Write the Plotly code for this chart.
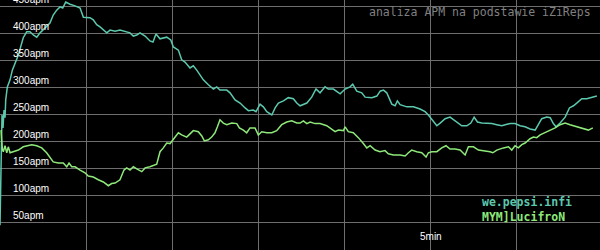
import plotly.graph_objects as go

# time in seconds, APM values
teal_name = "we.pepsi.infi"
teal_t = [0, 0.7, 1.4, 2.1, 2.8, 3.5, 4.0, 5.1, 7.0, 8.6, 10.5, 12.8, 14.4, 16.2, 18.6, 20.9, 23.2, 25.6,
          27.9, 31.4, 34.8, 37.1, 39.5, 41.8, 43.7, 45.8, 48.8, 52.3, 55.8, 58.1, 60.4, 62.7, 65.0, 67.4,
          69.7, 72.0, 74.4, 76.7, 80.2, 83.6, 87.1, 90.6, 92.9, 95.3, 97.6, 101.1, 104.5, 106.6, 108.7,
          111.5, 116.2, 119.0, 120.8, 124.3, 126.6, 128.9, 132.4, 134.7, 137.1, 139.4, 141.7, 145.2,
          148.7, 151.0, 153.3, 158.0, 160.3, 163.8, 167.3, 170.8, 173.1, 176.5, 178.4, 181.2, 183.5,
          185.9, 189.4, 191.7, 194.0, 197.5, 200.9, 204.4, 206.8, 209.1, 213.8, 217.2, 220.2, 223.0,
          226.5, 228.8, 232.3, 237.0, 240.5, 243.9, 245.8, 248.6, 252.1, 254.4, 259.1, 262.6, 264.9,
          267.2, 269.5, 273.0, 275.3, 276.9, 278.8, 283.5, 288.1, 292.7, 296.2, 298.5, 300.9, 304.4,
          306.7, 310.2, 313.6, 317.1, 321.8, 325.3, 328.1, 330.4, 332.7, 335.7, 339.2, 342.7, 346.2,
          349.7, 352.0, 355.5, 358.9, 362.4, 365.9, 369.4, 372.9, 375.2, 377.5, 381.0, 383.4, 385.6,
          387.5, 390.3, 393.8, 396.8, 399.6, 401.9, 405.4, 408.9, 412.4, 415.9]
teal_apm = [46, 204, 250, 226, 259, 245, 278, 302, 315, 333, 346, 361, 376, 393, 404, 404, 398, 394,
            402, 411, 420, 435, 444, 450, 448, 459, 455, 452, 448, 431, 431, 430, 426, 417,
            413, 407, 402, 407, 405, 407, 404, 402, 396, 398, 402, 396, 387, 385, 400,
            391, 394, 389, 376, 370, 352, 348, 337, 341, 333, 324, 315, 306,
            298, 302, 296, 296, 291, 278, 272, 263, 258, 259, 256, 270, 265,
            256, 250, 263, 272, 276, 282, 280, 272, 267, 272, 283, 298, 291,
            302, 298, 298, 289, 298, 302, 307, 294, 291, 283, 282, 285, 294,
            296, 291, 270, 267, 276, 269, 265, 265, 261, 256, 250, 241, 230,
            235, 243, 246, 239, 230, 230, 235, 246, 237, 235, 235, 234, 232,
            230, 232, 234, 234, 230, 228, 224, 222, 234, 243, 246, 245, 234,
            228, 235, 246, 263, 267, 272, 280, 280, 283, 285]

green_name = "MYM]LucifroN"
green_t = [0.7, 1.2, 1.7, 2.3, 3.5, 4.7, 5.8, 7.0, 9.3, 12.8, 16.2, 18.6, 22.1, 25.6, 29.1, 32.5, 34.8,
           37.1, 40.6, 44.1, 46.5, 48.1, 50.0, 52.3, 55.8, 59.2, 61.5, 65.0, 68.5, 72.0, 75.5, 77.8,
           80.2, 83.6, 86.4, 88.3, 90.6, 92.9, 95.3, 98.8, 101.1, 104.5, 109.2, 111.5, 113.8, 116.2,
           118.5, 120.4, 122.0, 124.3, 126.6, 130.1, 132.4, 134.7, 138.2, 140.6, 142.4, 145.2, 147.5,
           149.8, 151.5, 153.3, 155.6, 158.0, 161.5, 165.0, 166.8, 169.6, 171.9, 174.2, 177.7, 180.0,
           182.4, 185.9, 189.4, 192.8, 196.3, 199.8, 203.3, 206.8, 209.1, 211.4, 213.8, 216.1, 219.5,
           223.0, 227.7, 231.2, 233.5, 235.8, 239.3, 240.5, 242.7, 246.2, 249.7, 253.2, 255.6, 257.9,
           261.4, 264.8, 268.3, 270.6, 274.1, 278.8, 282.3, 284.6, 286.9, 290.4, 293.9, 296.9, 298.5,
           300.9, 304.4, 307.8, 310.8, 313.6, 317.1, 320.6, 324.1, 326.4, 329.9, 333.4, 336.8, 341.5,
           343.4, 346.2, 350.8, 354.3, 356.6, 358.9, 361.2, 363.6, 365.9, 369.4, 371.7, 374.0, 376.4,
           379.8, 383.3, 386.8, 390.3, 393.8, 397.2, 399.6, 403.0, 406.5, 410.0, 413.1]
green_apm = [222, 198, 185, 182, 193, 180, 191, 180, 182, 185, 191, 193, 195, 193, 189, 180, 172,
             163, 161, 161, 154, 161, 154, 154, 148, 143, 137, 135, 130, 126, 119, 123,
             124, 130, 148, 152, 148, 154, 150, 145, 152, 154, 159, 182, 189, 198,
             197, 204, 209, 217, 213, 209, 215, 221, 219, 211, 202, 204, 209,
             217, 228, 241, 235, 232, 235, 234, 226, 222, 217, 226, 226, 213,
             219, 217, 217, 221, 232, 237, 239, 235, 235, 239, 234, 237, 234,
             234, 230, 224, 219, 222, 221, 228, 219, 217, 208, 197, 189, 193,
             185, 182, 184, 178, 176, 176, 174, 180, 185, 182, 180, 172, 180,
             182, 182, 189, 193, 187, 187, 185, 176, 191, 191, 185, 184, 182,
             180, 185, 189, 191, 185, 193, 189, 195, 198, 206, 209, 208, 213,
             217, 221, 226, 232, 235, 232, 230, 228, 224, 222, 226]

y_ticks = [50, 100, 150, 200, 250, 300, 350, 400, 450]
y_tick_labels = ["50apm", "100apm", "150apm", "200apm", "250apm", "300apm", "350apm", "400apm", "450apm"]
x_ticks = [0, 60, 120, 180, 240, 300, 360]
x_label_value = 300
x_label_text = "5min"
title_text = "analiza APM na podstawie iZiReps"

teal_color = "#5cc8ae"
green_color = "#8ee87a"

fig = go.Figure()
fig.add_trace(go.Scatter(x=teal_t, y=teal_apm, mode="lines", name=teal_name,
                         line=dict(color=teal_color, width=1.5), showlegend=False))
fig.add_trace(go.Scatter(x=green_t, y=green_apm, mode="lines", name=green_name,
                         line=dict(color=green_color, width=1.5), showlegend=False))

annotations = []
for v, lab in zip(y_ticks, y_tick_labels):
    annotations.append(dict(x=0, xref="paper", xanchor="left", xshift=11,
                            y=v, yref="y", yanchor="bottom", yshift=0,
                            text=lab, showarrow=False,
                            font=dict(family="Liberation Sans, Arial", size=10, color="#ffffff")))
annotations.append(dict(x=x_label_value, xref="x", xanchor="center",
                        y=0, yref="paper", yanchor="bottom", yshift=6,
                        text=x_label_text, showarrow=False,
                        font=dict(family="Liberation Sans, Arial", size=10, color="#ffffff")))
annotations.append(dict(x=1, xref="paper", xanchor="right", xshift=-7,
                        y=1, yref="paper", yanchor="top", yshift=-3,
                        text=title_text, showarrow=False,
                        font=dict(family="DejaVu Sans Mono", size=11.5, color="#808080")))
annotations.append(dict(x=0.8, xref="paper", xanchor="left",
                        y=0.192, yref="paper", yanchor="middle",
                        text="<b>" + teal_name + "</b>", showarrow=False,
                        font=dict(family="DejaVu Sans Mono", size=11.5, color=teal_color)))
annotations.append(dict(x=0.8, xref="paper", xanchor="left",
                        y=0.133, yref="paper", yanchor="middle",
                        text="<b>" + green_name + "</b>", showarrow=False,
                        font=dict(family="DejaVu Sans Mono", size=11.5, color=green_color)))

fig.update_layout(
    width=600, height=250,
    margin=dict(l=0, r=0, t=0, b=0),
    paper_bgcolor="#000000", plot_bgcolor="#000000",
    xaxis=dict(range=[0, 418.1], tickvals=x_ticks, showticklabels=False,
               showgrid=True, gridcolor="#6e6e6e", gridwidth=1, zeroline=False,
               showline=False, fixedrange=True),
    yaxis=dict(range=[0, 462.8], tickvals=y_ticks, showticklabels=False,
               showgrid=True, gridcolor="#6e6e6e", gridwidth=1, zeroline=False,
               showline=False, fixedrange=True),
    annotations=annotations,
    showlegend=False,
)

fig.write_html("out.html")
